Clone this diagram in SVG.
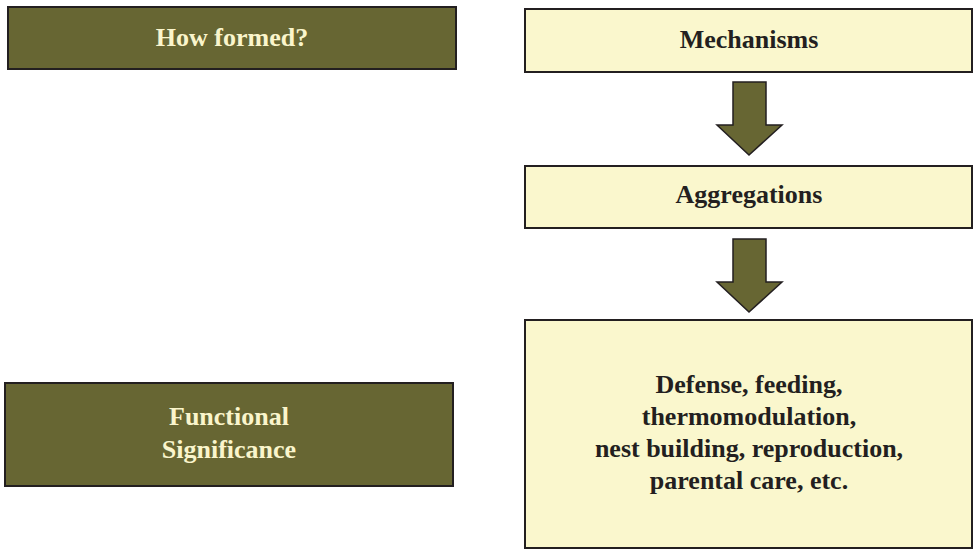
<svg xmlns="http://www.w3.org/2000/svg" width="973" height="550" viewBox="0 0 973 550">
<style>
.dark{fill:#676633;stroke:#231f20;stroke-width:2}
.light{fill:#faf7cd;stroke:#231f20;stroke-width:2}
.arrow{fill:#676633;stroke:#231f20;stroke-width:1.5;stroke-linejoin:miter}
text{font-family:"Liberation Serif","Times New Roman",serif;font-weight:bold;font-size:26px;text-anchor:middle}
.tl{fill:#faf5cc}
.td{fill:#231f20}
</style>
<rect width="973" height="550" fill="#ffffff"/>
<g id="how-formed">
<rect class="dark" x="8" y="7" width="448" height="62"/>
<text class="tl" x="232" y="46">How formed?</text>
</g>
<g id="functional-significance">
<rect class="dark" x="5" y="383" width="448" height="103"/>
<text class="tl" x="229" y="425">Functional</text>
<text class="tl" x="229" y="458">Significance</text>
</g>
<g id="mechanisms">
<rect class="light" x="525" y="9" width="447" height="63"/>
<text class="td" x="749" y="48">Mechanisms</text>
</g>
<g id="aggregations">
<rect class="light" x="525" y="166" width="447" height="62"/>
<text class="td" x="749" y="203">Aggregations</text>
</g>
<g id="functions">
<rect class="light" x="525" y="320" width="447" height="228"/>
<text class="td" x="749" y="393">Defense, feeding,</text>
<text class="td" x="749" y="425">thermomodulation,</text>
<text class="td" x="749" y="457">nest building, reproduction,</text>
<text class="td" x="749" y="489">parental care, etc.</text>
</g>
<g id="connectors">
<path class="arrow" d="M733,82 H766 V125 H782 L749,155 L717,125 H733 Z"/>
<path class="arrow" d="M733,239 H766 V282 H782 L749,312 L717,282 H733 Z"/>
</g>
</svg>
